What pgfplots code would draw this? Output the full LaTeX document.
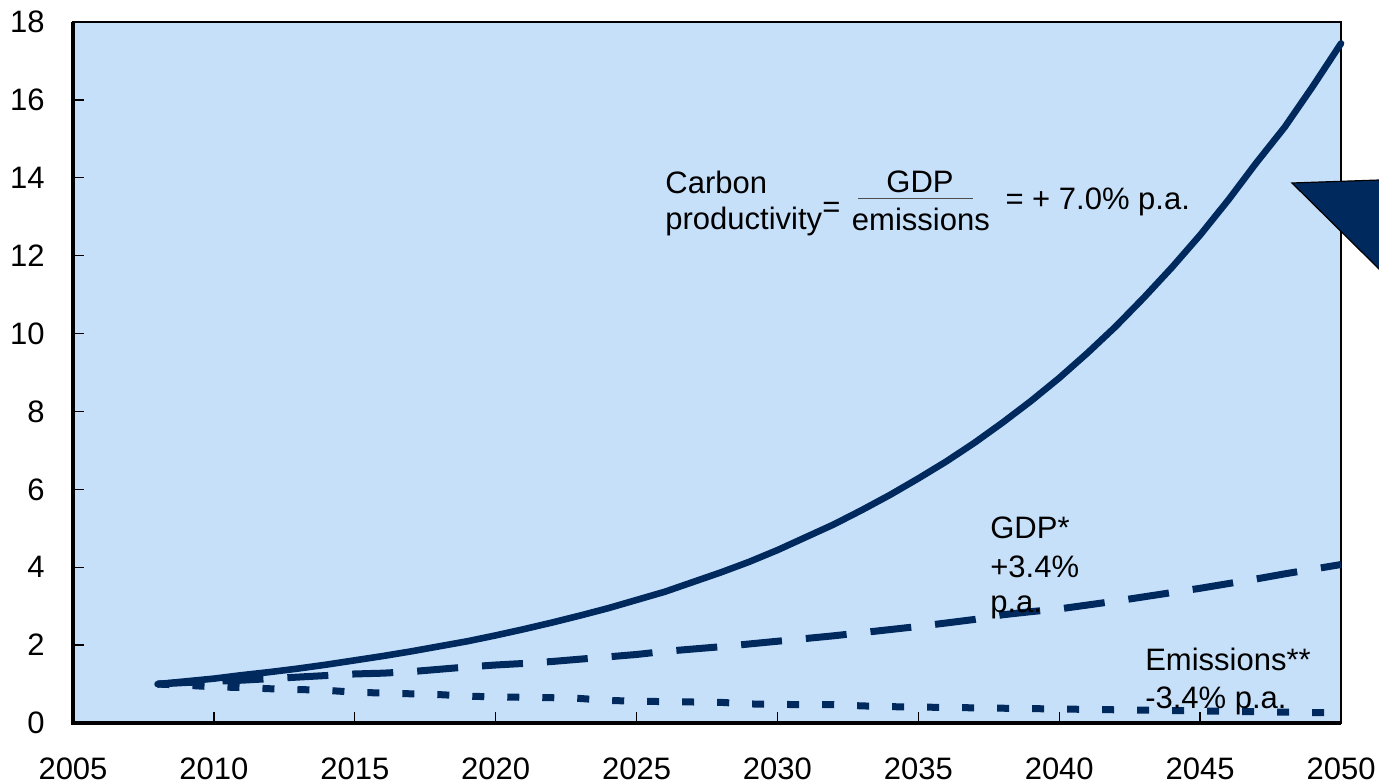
\documentclass[border=0pt]{standalone}
\usepackage{fontspec}
\setmainfont{Liberation Sans}
\usepackage{pgfplots}
\pgfplotsset{compat=1.18}

\definecolor{navy}{RGB}{0,41,94}
\definecolor{panel}{RGB}{198,224,250}

% Carbon productivity index (2008 = 1)
\pgfplotstableread{
year value
2008 1.00
2009 1.07
2010 1.14
2011 1.23
2012 1.31
2013 1.40
2014 1.50
2015 1.61
2016 1.72
2017 1.84
2018 1.97
2019 2.10
2020 2.25
2021 2.41
2022 2.58
2023 2.76
2024 2.95
2025 3.16
2026 3.37
2027 3.62
2028 3.87
2029 4.14
2030 4.44
2031 4.77
2032 5.10
2033 5.47
2034 5.86
2035 6.28
2036 6.72
2037 7.20
2038 7.72
2039 8.27
2040 8.86
2041 9.50
2042 10.18
2043 10.92
2044 11.70
2045 12.53
2046 13.43
2047 14.39
2048 15.30
2049 16.35
2050 17.45
}\productivity

% GDP index (2008 = 1)
\pgfplotstableread{
year value
2008 1.00
2009 1.04
2010 1.07
2011 1.10
2012 1.14
2013 1.18
2014 1.22
2015 1.26
2016 1.28
2017 1.32
2018 1.38
2019 1.44
2020 1.49
2021 1.53
2022 1.58
2023 1.64
2024 1.70
2025 1.76
2026 1.84
2027 1.90
2028 1.96
2029 2.03
2030 2.10
2031 2.17
2032 2.24
2033 2.32
2034 2.40
2035 2.48
2036 2.57
2037 2.66
2038 2.78
2039 2.86
2040 2.93
2041 3.03
2042 3.13
2043 3.24
2044 3.35
2045 3.46
2046 3.58
2047 3.70
2048 3.83
2049 3.95
2050 4.07
}\gdp

% Emissions index (2008 = 1)
\pgfplotstableread{
year value
2008 1.00
2009 0.97
2010 0.93
2011 0.91
2012 0.88
2013 0.86
2014 0.84
2015 0.79
2016 0.77
2017 0.75
2018 0.73
2019 0.69
2020 0.67
2021 0.66
2022 0.65
2023 0.63
2024 0.58
2025 0.56
2026 0.55
2027 0.54
2028 0.53
2029 0.49
2030 0.48
2031 0.47
2032 0.47
2033 0.44
2034 0.42
2035 0.41
2036 0.40
2037 0.39
2038 0.38
2039 0.37
2040 0.36
2041 0.35
2042 0.34
2043 0.33
2044 0.32
2045 0.31
2046 0.30
2047 0.29
2048 0.28
2049 0.27
2050 0.27
}\emissions

\newcommand{\lbl}{\fontsize{15.5}{18}\selectfont}

\begin{document}
\begin{tikzpicture}
\begin{axis}[
  scale only axis,
  width=634pt, height=350.5pt,
  xmin=2005, xmax=2050, ymin=0, ymax=18,
  xtick={2005,2010,...,2050},
  ytick={0,2,...,18},
  xtick pos=bottom, ytick pos=left,
  tick align=inside,
  major tick length=5.5pt,
  tick style={black, line width=0.7pt},
  axis line style={black, line width=0.8pt},
  axis background/.style={fill=panel},
  tick label style={font=\lbl},
  /pgf/number format/assume math mode=true,
  xticklabel style={anchor=north, inner sep=0pt, yshift=-17pt,
    /pgf/number format/1000 sep={}},
  yticklabel style={anchor=east, inner sep=0pt, xshift=-14pt},
  clip=false,
]
\addplot[navy, line width=3.5pt, line cap=butt,
  dash pattern=on 6pt off 11.5pt] table[x=year, y=value] {\emissions};
\addplot[navy, line width=3.5pt, line cap=butt,
  dash pattern=on 20.5pt off 12pt] table[x=year, y=value] {\gdp};
\addplot[navy, line width=3.3pt, line cap=round, line join=round]
  table[x=year, y=value] {\productivity};

% heavier left and bottom axis lines
\draw[black, line width=1.6pt] (rel axis cs:0,1) -- (rel axis cs:0,0) -- (rel axis cs:1,0);

% annotations
\node[font=\lbl, inner sep=0pt, anchor=base west] at (axis cs:2026.01,13.584) {Carbon};
\node[font=\lbl, inner sep=0pt, anchor=base west] at (axis cs:2026.01,12.685) {productivity};
\node[font=\lbl, inner sep=0pt, anchor=base west] at (axis cs:2031.58,12.993) {=};
\node[font=\lbl, inner sep=0pt, anchor=base] at (axis cs:2035.06,13.635) {GDP};
\draw[black!70, line width=0.5pt] (axis cs:2032.86,13.481) -- (axis cs:2036.94,13.481);
\node[font=\lbl, inner sep=0pt, anchor=base] at (axis cs:2035.09,12.659) {emissions};
\node[font=\lbl, inner sep=0pt, anchor=base west] at (axis cs:2038.08,13.173) {= + 7.0\% p.a.};

\node[font=\lbl, inner sep=0pt, anchor=base west] at (axis cs:2037.54,4.750) {GDP*};
\node[font=\lbl, inner sep=0pt, anchor=base west] at (axis cs:2037.54,3.749) {+3.4\%};
\node[font=\lbl, inner sep=0pt, anchor=base west] at (axis cs:2037.54,2.850) {p.a.};

\node[font=\lbl, inner sep=0pt, anchor=base west] at (axis cs:2043.04,1.361) {Emissions**};
\node[font=\lbl, inner sep=0pt, anchor=base west] at (axis cs:2043.04,0.385) {-3.4\% p.a.};

% arrow head entering from the right
\filldraw[fill=navy, draw=black, line width=0.6pt, line join=miter]
  (axis cs:2048.26,13.866) -- (axis cs:2052.2,13.964) -- (axis cs:2052.2,11.05) -- cycle;

\coordinate (bbsw) at (axis cs:2002.409,-1.541);
\coordinate (bbne) at (axis cs:2051.348,18.565);
\end{axis}
\pgfresetboundingbox
\useasboundingbox (bbsw) rectangle (bbne);
\end{tikzpicture}
\end{document}
